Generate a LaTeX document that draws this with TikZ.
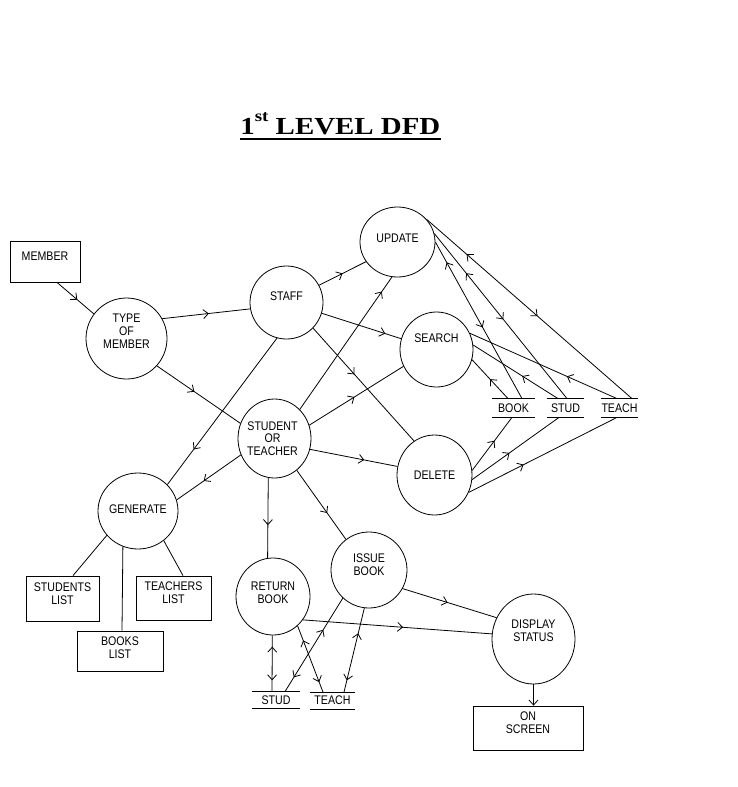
\documentclass[tikz,border=0pt]{standalone}
\usepackage{fontspec}
\newfontfamily\dfont{Liberation Sans}[FakeStretch=0.85]
\newfontfamily\tfont{Liberation Serif}[FakeStretch=1.18]
\usetikzlibrary{arrows.meta,decorations.markings,shapes.geometric}
\tikzset{
  sb/.tip={Straight Barb[length=5pt,width=9pt]},
}
\begin{document}
\begin{tikzpicture}[x=1pt,y=-1pt,line width=0.8pt,
  every node/.style={font=\dfont\fontsize{12.5}{12.7}\selectfont},
  proc/.style={ellipse,draw,inner sep=0pt},
  box/.style={rectangle,draw,inner sep=0pt},
  lbl/.style={align=center,inner sep=0pt},
  store/.style={inner sep=0pt,minimum height=18pt},
  fw/.style={postaction={decorate,decoration={markings,mark=at position #1 with {\arrow{sb}}}}},
  bw/.style={postaction={decorate,decoration={markings,mark=at position #1 with {\arrowreversed{sb}}}}}
]
\useasboundingbox (0,0) rectangle (737,787);
\fill[white] (0,0) rectangle (737,787);

% title
\node[inner sep=0pt,anchor=base west,font=\tfont\fontsize{24.5}{25}\selectfont\bfseries] (title) at (240,134)
  {1\raisebox{13pt}{\fontsize{16}{16}\selectfont st} LEVEL DFD};
\draw[line width=2pt] ([yshift=-5pt]title.base west) -- ([yshift=-5pt]title.base east);

% external entities
\node[box,minimum width=70pt,minimum height=41pt,label={[lbl,yshift=5.5pt]center:MEMBER}] (member) at (45,261.5) {};
\node[box,minimum width=73pt,minimum height=45pt,label={[lbl,yshift=4.5pt]center:STUDENTS\\LIST}] (students) at (62.5,598.5) {};
\node[box,minimum width=86pt,minimum height=40pt,label={[lbl,yshift=3pt]center:BOOKS\\LIST}] (books) at (120,651) {};
\node[box,minimum width=75pt,minimum height=44pt,label={[lbl,yshift=5.5pt]center:TEACHERS\\LIST}] (teachers) at (173.5,598) {};
\node[box,minimum width=110pt,minimum height=44pt,label={[lbl,yshift=5pt]center:ON\\SCREEN}] (onscreen) at (528,728) {};

% processes
\node[proc,minimum width=81pt,minimum height=81pt,label={[lbl,yshift=7.5pt]center:TYPE\\OF\\MEMBER}] (type) at (126.5,338.5) {};
\node[proc,minimum width=73pt,minimum height=73pt,label={[lbl,yshift=6.5pt]center:STAFF}] (staff) at (286.5,302.5) {};
\node[proc,minimum width=75pt,minimum height=70pt,label={[lbl,yshift=4pt]center:UPDATE}] (update) at (397.5,242) {};
\node[proc,minimum width=73pt,minimum height=75pt,label={[lbl,yshift=11.5pt]center:SEARCH}] (search) at (436.5,349.5) {};
\node[proc,minimum width=75pt,minimum height=80pt,label={[lbl]center:DELETE}] (delete) at (434.5,475) {};
\node[proc,minimum width=73pt,minimum height=79pt,label={[lbl,xshift=-2pt]center:STUDENT\\OR\\TEACHER}] (st) at (274.5,438.5) {};
\node[proc,minimum width=80pt,minimum height=76pt,label={[lbl,yshift=2pt]center:GENERATE}] (generate) at (138,511) {};
\node[proc,minimum width=74pt,minimum height=77pt,label={[lbl,yshift=4pt]center:RETURN\\BOOK}] (return) at (273,596.5) {};
\node[proc,minimum width=76pt,minimum height=76pt,label={[lbl,yshift=5.5pt]center:ISSUE\\BOOK}] (issue) at (369,570) {};
\node[proc,minimum width=83pt,minimum height=90pt,label={[lbl,yshift=8.5pt]center:DISPLAY\\STATUS}] (display) at (533.5,639) {};

% data stores
\node[store,minimum width=43pt] (book) at (513.5,408) {BOOK};
\node[store,minimum width=37pt] (stud) at (565.5,408) {STUD};
\node[store,minimum width=37pt] (teach) at (619.5,408) {TEACH};
\node[store,minimum width=48pt,minimum height=16pt] (studb) at (276,700) {STUD};
\node[store,minimum width=45pt,minimum height=16pt] (teachb) at (332.5,700.5) {TEACH};
\foreach \s in {book,stud,teach,studb,teachb}{
  \draw (\s.north west) -- (\s.north east);
  \draw (\s.south west) -- (\s.south east);
}

% flows
\draw[fw=.55] ([xshift=12pt]member.south) -- (type.143);
\draw[fw=.53] (type.29) -- (staff.190);
\draw[fw=.45] (type.-42) -- (st.156);
\draw[fw=.5] (staff.28) -- (update.212);
\draw[fw=.8] (staff.-17.5) -- (search.163.5);
\draw[fw=.41] (staff.-44) -- (delete.121);
\draw[fw=.76] (staff.-105) -- (generate.42);
\draw[fw=.89] (st.49) -- (update.-99);
\draw[fw=.48] (st.21) -- (search.207.6);
\draw[fw=.62] (st.-17.5) -- (delete.167.6);
\draw[fw=.58] (st.206) -- (generate.16);
\draw[fw=.59] (st.-99.3) -- (return.98.9);
\draw[fw=.62] (st.-55.7) -- (issue.127.7);

\draw[bw=.195,fw=.54] (update.38) -- ([xshift=12.5pt]teach.north);
\draw[bw=.24,fw=.52] (update.13.5) -- ([xshift=1.5pt]stud.north);
\draw[bw=.13,fw=.545] (update.0) -- ([xshift=8.5pt]book.north);

\draw[bw=.66] (search.26) -- ([xshift=-2.5pt]teach.north);
\draw[bw=.58] (search.7) -- ([xshift=-7.5pt]stud.north);
\draw[bw=.5] (search.-16.5) -- ([xshift=-5.5pt]book.north);

\draw[fw=.56] (delete.7.4) -- ([xshift=-1.5pt]book.south);
\draw[fw=.43] (delete.-7.4) -- ([xshift=-6.5pt]stud.south);
\draw[fw=.37] (delete.-27) -- ([xshift=-2.5pt]teach.south);

\draw[fw=.48] (issue.-29) -- (display.150);
\draw[fw=.53] (return.-38) -- (display.173);
\draw[-{sb}] (display.south) -- (display.south |- onscreen.north);

\draw[bw=.2,fw=.8] (return.-91.6) -- ([xshift=-4pt]studb.north);
\draw[bw=.22,fw=.85] (return.-50) -- ([xshift=-9.5pt]teachb.north);
\draw[bw=.34,fw=.85] (issue.-133) -- ([xshift=9pt]studb.north);
\draw[bw=.3,fw=.86] (issue.-97.5) -- ([xshift=11.5pt]teachb.north);

\draw (generate.-142) -- ([xshift=10.5pt]students.north);
\draw (generate.-113) -- ([xshift=2pt]books.north);
\draw (generate.-49) -- ([xshift=9.5pt]teachers.north);
\end{tikzpicture}
\end{document}
